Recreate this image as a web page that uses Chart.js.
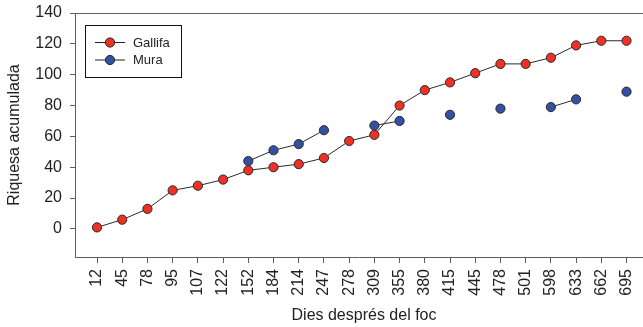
<!DOCTYPE html>
<html>
<head>
<meta charset="utf-8">
<script src="https://cdn.jsdelivr.net/npm/chart.js@4.4.1/dist/chart.umd.min.js"></script>
<style>
  html, body { margin: 0; padding: 0; background: #ffffff; }
  #wrap { width: 643px; height: 327px; position: relative; }
</style>
</head>
<body>
<div id="wrap"><canvas id="chart"></canvas></div>
<script>
// Days after the fire (sampling dates)
const dies = ['12', '45', '78', '95', '107', '122', '152', '184', '214', '247', '278',
              '309', '355', '380', '415', '445', '478', '501', '598', '633', '662', '695'];

// Cumulative species richness per site (null = not sampled)
const gallifa = [1, 6, 13, 25, 28, 32, 38, 40, 42, 46, 57, 61, 80, 90, 95, 101, 107, 107, 111, 119, 122, 122];
const mura = [null, null, null, null, null, null, 44, 51, 55, 64, null, 67, 70, null, 74, null, 78, null, 79, 84, null, 89];

const yTicks = [0, 20, 40, 60, 80, 100, 120, 140];

const FONT = "'Liberation Sans', Arial, Helvetica, sans-serif";
const AXIS = '#5f5f5f';
const RED = '#ee3124';
const BLUE = '#3550a0';

const toPoints = arr => arr.map((v, i) => ({ x: i, y: v }));

// The plot frame runs slightly past the right edge of the canvas; the
// x axis is stretched accordingly (the last rotated label would otherwise
// reserve extra room on the right).
const X_RIGHT_OVERHANG = 10;
const fullWidthPlugin = {
  id: 'fullWidth',
  afterLayout(chart) {
    const area = chart.chartArea;
    const x = chart.scales.x;
    area.right = chart.width;
    area.width = area.right - area.left;
    x.right = chart.width + X_RIGHT_OVERHANG;
    x.width = x.right - x.left;
    x.configure();
  }
};

// Frame line along the top of the plot area and boxed legend inside it
const framePlugin = {
  id: 'frame',
  afterDatasetsDraw(chart) {
    const { ctx, chartArea } = chart;
    ctx.save();
    ctx.strokeStyle = AXIS;
    ctx.lineWidth = 1;
    ctx.beginPath();
    ctx.moveTo(chartArea.left, chartArea.top + 0.5);
    ctx.lineTo(chart.width, chartArea.top + 0.5);
    ctx.stroke();

    // legend
    ctx.strokeStyle = '#111';
    ctx.lineWidth = 1;
    ctx.strokeRect(85.5, 25.5, 96, 52);
    const items = chart.data.datasets;
    items.forEach((ds, k) => {
      const y = 42.5 + k * 17.5;
      ctx.strokeStyle = '#222';
      ctx.lineWidth = 1;
      ctx.beginPath();
      ctx.moveTo(95, y);
      ctx.lineTo(125, y);
      ctx.stroke();
      ctx.beginPath();
      ctx.arc(110, y, 4.6, 0, Math.PI * 2);
      ctx.fillStyle = ds.pointBackgroundColor;
      ctx.fill();
      ctx.strokeStyle = '#222';
      ctx.stroke();
      ctx.fillStyle = '#222';
      ctx.font = '13px ' + FONT;
      ctx.textAlign = 'left';
      ctx.textBaseline = 'middle';
      ctx.fillText(ds.label, 133, y + 0.5);
    });
    ctx.restore();
  }
};

new Chart(document.getElementById('chart'), {
  type: 'line',
  data: {
    datasets: [
      {
        label: 'Gallifa',
        data: toPoints(gallifa),
        borderColor: '#2a2a2a',
        borderWidth: 1,
        pointBackgroundColor: RED,
        pointBorderColor: '#2a2a2a',
        pointBorderWidth: 1,
        pointRadius: 4.6,
        spanGaps: false
      },
      {
        label: 'Mura',
        data: toPoints(mura),
        borderColor: '#2a2a2a',
        borderWidth: 1,
        pointBackgroundColor: BLUE,
        pointBorderColor: '#2a2a2a',
        pointBorderWidth: 1,
        pointRadius: 4.6,
        spanGaps: false
      }
    ]
  },
  options: {
    responsive: true,
    maintainAspectRatio: false,
    animation: false,
    events: [],
    layout: { padding: { left: 0, top: 13, right: 0, bottom: 0 } },
    plugins: {
      legend: { display: false },
      tooltip: { enabled: false }
    },
    scales: {
      x: {
        type: 'linear',
        min: -0.873,
        max: 22.05,
        afterBuildTicks: s => { s.ticks = dies.map((_, i) => ({ value: i })); },
        afterFit: s => { s.height = 70; s.paddingLeft = 0; s.paddingRight = 0; },
        grid: { display: true, drawOnChartArea: false, drawTicks: true, tickLength: 6, color: AXIS, lineWidth: 1 },
        border: { display: true, color: AXIS, width: 1 },
        ticks: {
          autoSkip: false,
          minRotation: 90,
          maxRotation: 90,
          padding: 6,
          color: '#222',
          font: { family: FONT, size: 16 },
          callback: v => dies[v]
        },
        title: {
          display: true,
          text: 'Dies després del foc',
          color: '#222',
          font: { family: FONT, size: 16 },
          padding: { top: 0, bottom: 2 }
        }
      },
      y: {
        type: 'linear',
        min: -18.2,
        max: 140,
        afterBuildTicks: s => { s.ticks = yTicks.map(v => ({ value: v })); },
        afterFit: s => { s.width = 75; s.paddingTop = 0; s.paddingBottom = 0; },
        grid: { display: true, drawOnChartArea: false, drawTicks: true, tickLength: 5, color: AXIS, lineWidth: 1 },
        border: { display: true, color: AXIS, width: 1 },
        ticks: {
          padding: 8,
          color: '#222',
          font: { family: FONT, size: 16 }
        },
        title: {
          display: true,
          text: 'Riquesa acumulada',
          color: '#222',
          font: { family: FONT, size: 16 },
          padding: { top: 5, bottom: 0 }
        }
      }
    }
  },
  plugins: [fullWidthPlugin, framePlugin]
});
</script>
</body>
</html>
